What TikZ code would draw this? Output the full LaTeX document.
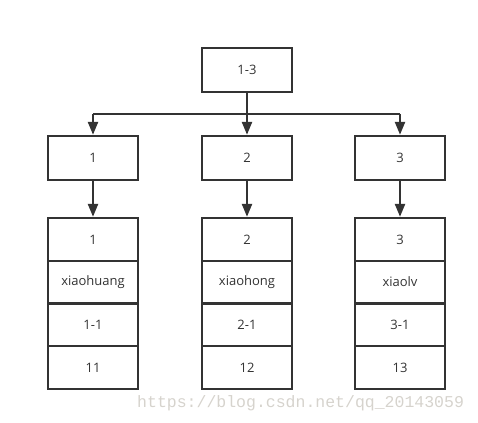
\documentclass[tikz,border=0pt]{standalone}
\usepackage{fontspec}
\setmainfont{Open Sans}
\newfontfamily\wmfont{Liberation Mono}
\usetikzlibrary{arrows.meta}
\definecolor{ink}{RGB}{51,51,51}
\definecolor{wm}{RGB}{214,211,205}
\tikzset{
  box/.style={draw=ink, line width=2.4pt, minimum width=90pt, minimum height=44pt, inner sep=0pt, font=\fontsize{13}{15}\selectfont, text=ink},
  cell/.style={draw=ink, line width=2.4pt, minimum width=90pt, minimum height=42.75pt, inner sep=0pt, font=\fontsize{13}{15}\selectfont, text=ink},
  conn/.style={draw=ink, line width=2.4pt},
  arr/.style={conn, -{Triangle[length=13pt,width=10pt]}}
}
\begin{document}
\begin{tikzpicture}[x=1pt,y=-1pt]
\useasboundingbox (0,0) rectangle (478,422);
\node[box] (top) at (247,70) {1-3};
\node[box] (a) at (93,158) {1};
\node[box] (b) at (247,158) {2};
\node[box] (c) at (400,158) {3};
\coordinate (ja) at (93,114);
\coordinate (jb) at (247,114);
\coordinate (jc) at (400,114);
\draw[conn] (ja) -- (jc);
\draw[conn] (top.south) -- (jb);
\draw[arr] (ja) -- (a.north);
\draw[arr] (jb) -- (b.north);
\draw[arr] (jc) -- (c.north);
% column 1
\node[cell] (a1) at (93,239.4) {1};
\node[cell] (a2) at (93,282.1) {xiaohuang};
\node[cell] (a3) at (93,324.9) {1-1};
\node[cell] (a4) at (93,367.6) {11};
% column 2
\node[cell] (b1) at (247,239.4) {2};
\node[cell] (b2) at (247,282.1) {xiaohong};
\node[cell] (b3) at (247,324.9) {2-1};
\node[cell] (b4) at (247,367.6) {12};
% column 3
\node[cell] (c1) at (400,239.4) {3};
\node[cell] (c2) at (400,282.1) {xiaolv};
\node[cell] (c3) at (400,324.9) {3-1};
\node[cell] (c4) at (400,367.6) {13};
\draw[arr] (a.south) -- (a1.north);
\draw[arr] (b.south) -- (b1.north);
\draw[arr] (c.south) -- (c1.north);
\node[anchor=base west, inner sep=0pt, text=wm, font=\wmfont\fontsize{16.5}{18}\selectfont] (wmark) at (137,407) {https://blog.csdn.net/qq\_20143059};
\end{tikzpicture}
\end{document}
